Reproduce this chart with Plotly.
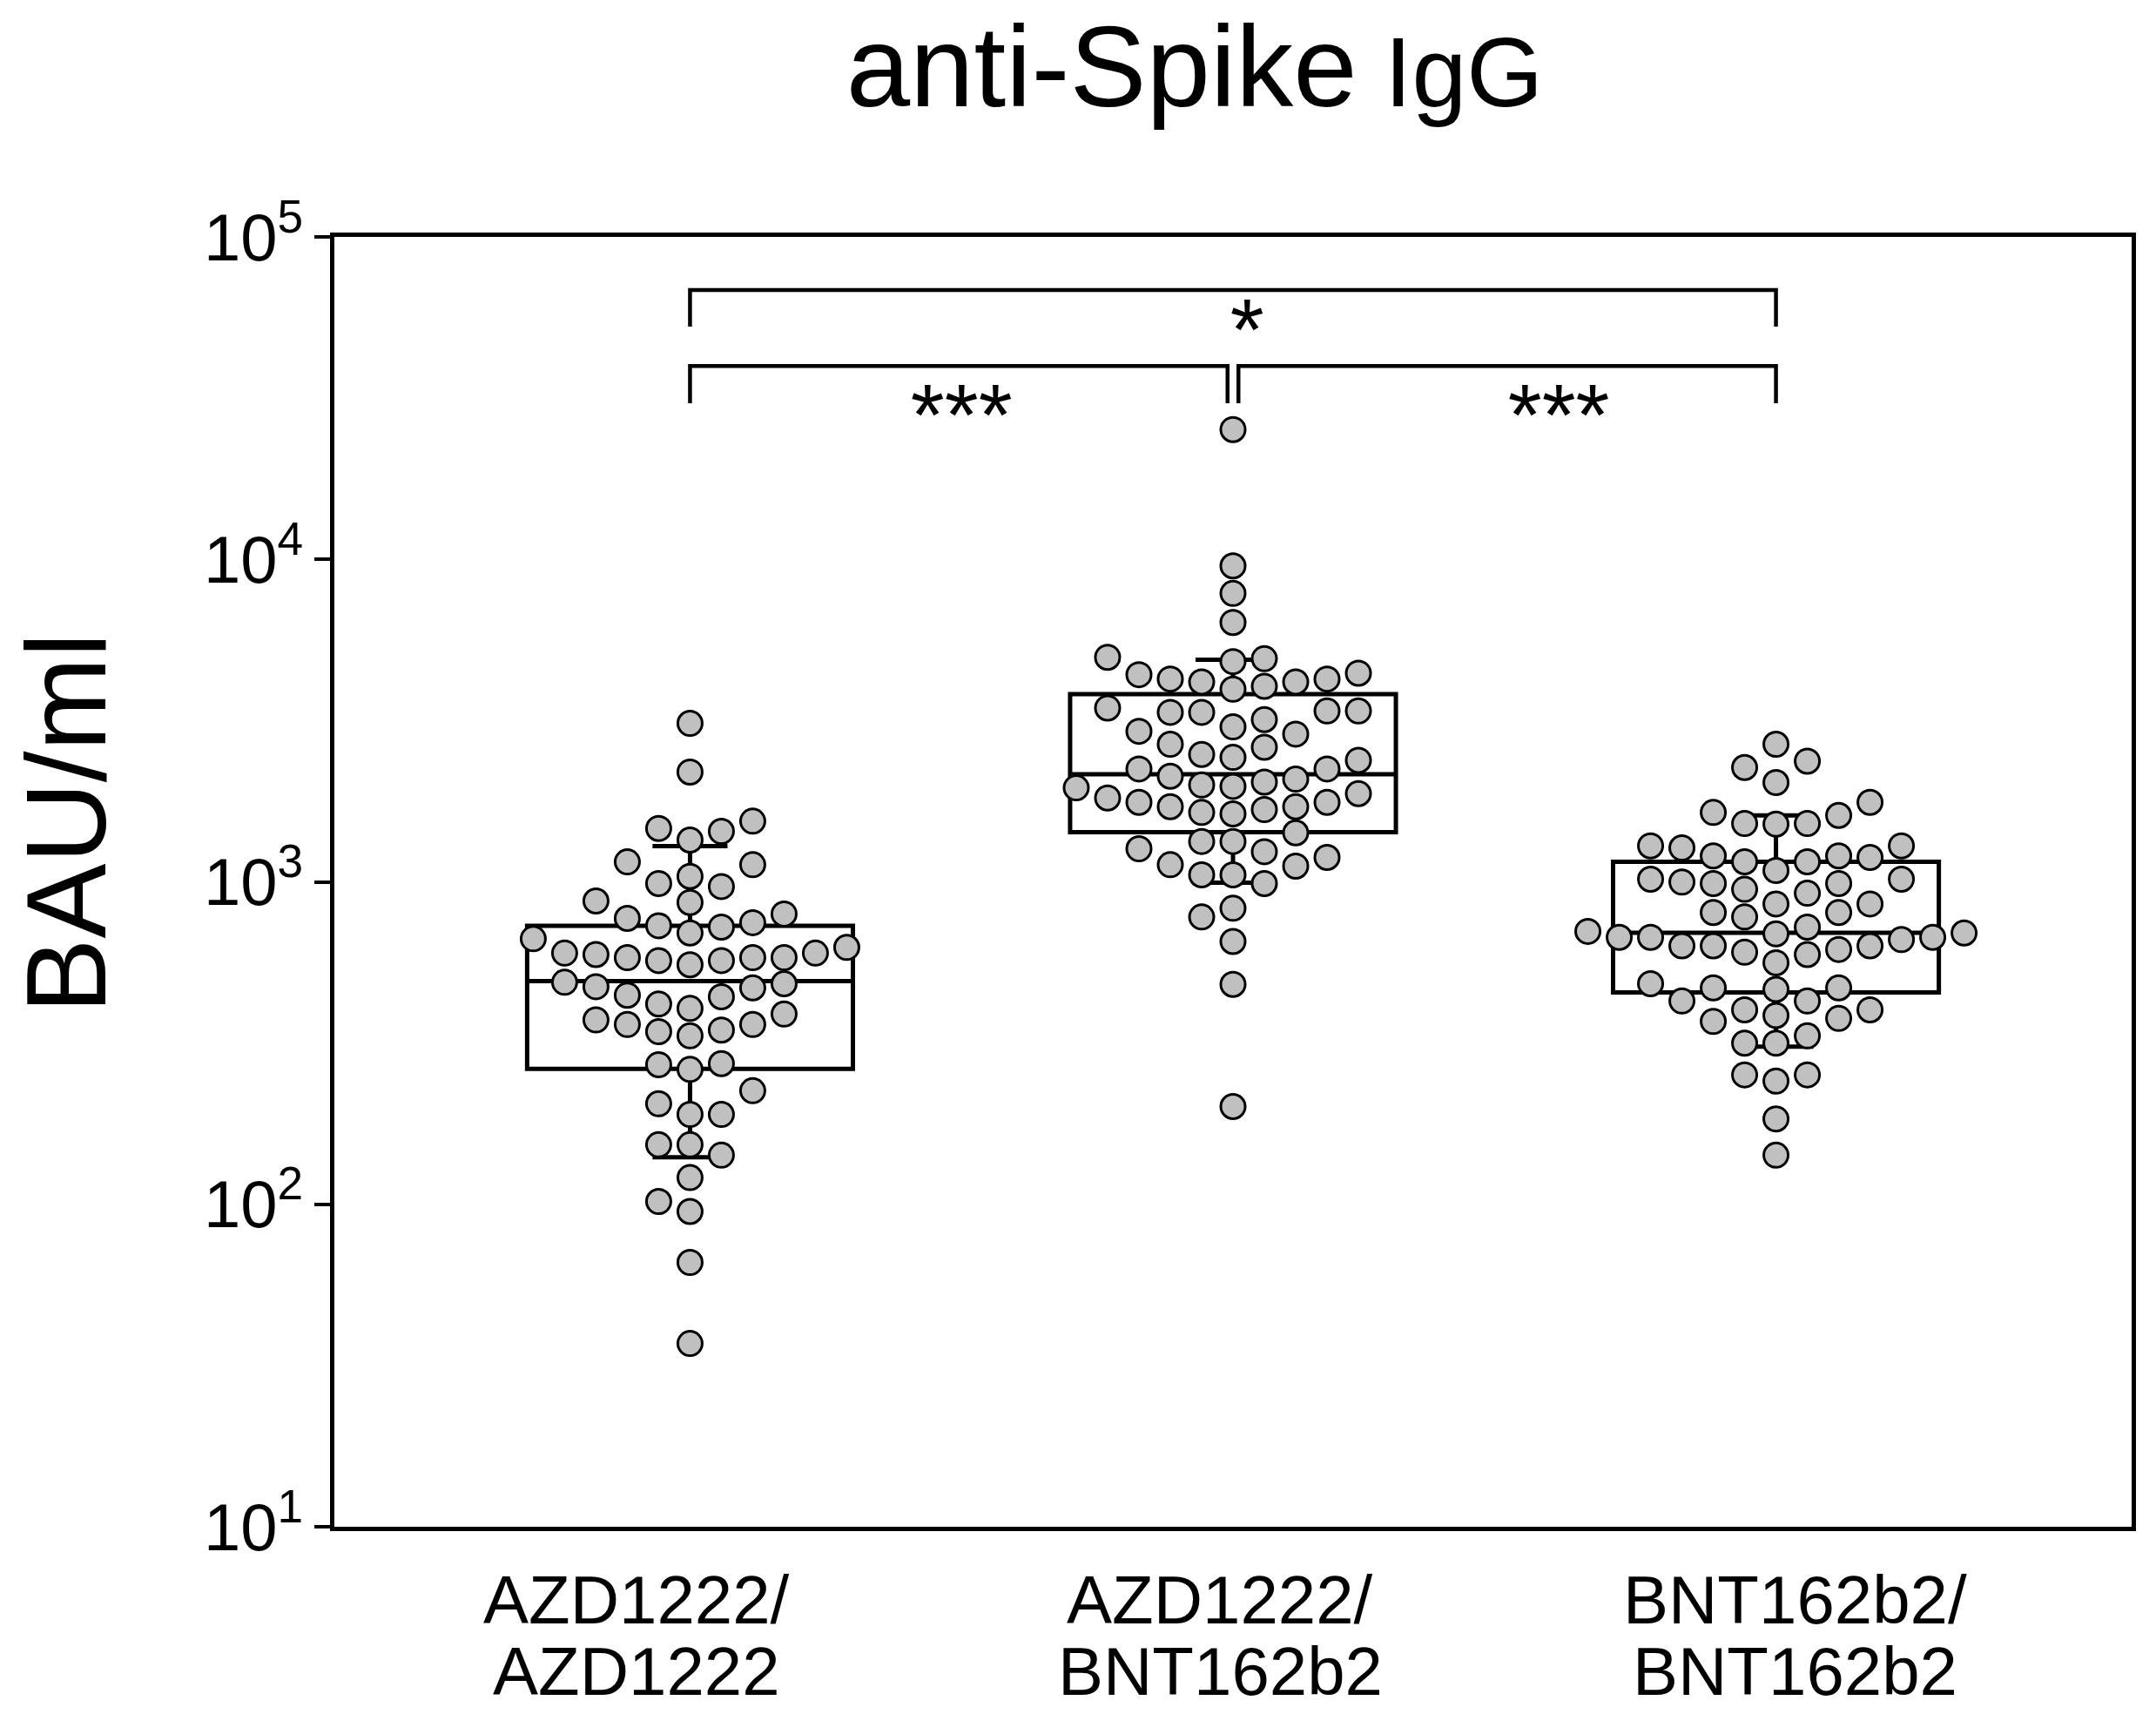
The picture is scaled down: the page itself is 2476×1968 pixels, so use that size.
import numpy as np
import plotly.graph_objects as go

# group labels (two lines under each group)
label_top = ["AZD1222/", "AZD1222/", "BNT162b2/"]
label_bottom = ["AZD1222", "BNT162b2", "BNT162b2"]

# anti-Spike IgG, BAU/ml, one value per participant
azd_azd = [3100, 2190, 1434, 1348, 1464, 1542, 1130, 1153, 1040, 988, 967,
           863, 872, 795, 770, 747, 724, 694, 731, 666, 601, 582, 582, 601,
           595, 570, 553, 570, 626, 582, 488, 440, 418, 445, 469, 473, 483,
           389, 405, 361, 347, 343, 333, 361, 373, 262, 273, 271, 225, 205,
           190, 190, 153, 153, 142, 121, 102, 95, 66, 37]
azd_bnt = [25270, 9546, 7842, 6374, 4819, 3459, 2871, 2239, 1710, 1240, 988,
           653, 481, 201, 4918, 4041, 3184, 2670, 2239, 1764, 1419, 1130,
           4168, 3354, 2382, 1764, 1266, 4436, 3388, 2615, 1820, 1334, 1051,
           778, 4970, 3957, 3023, 2432, 1997, 1641, 1334, 1051, 828, 4390,
           3388, 2483, 1977, 1624, 1119, 4168, 2930, 2039, 1675, 1190, 4255,
           3354, 2126, 1710, 4255, 1877, 1956, 2082]
bnt_bnt = [2670, 2262, 2367, 2032, 1510, 1641, 1516, 1516, 1607, 1764, 1293,
           1190, 1274, 1293, 1203, 1203, 1154, 1084, 1154, 1019, 988, 998, 988,
           1019, 948, 922, 854, 854, 778, 803, 803, 690, 673, 673, 633, 633,
           633, 724, 702, 617, 605, 662, 673, 694, 595, 561, 469, 464, 469,
           483, 427, 427, 369, 377, 385, 401, 401, 316, 316, 333, 252, 241,
           252, 184, 142]

# box statistics as drawn in the figure
q1 = [263, 1425, 454]
median = [492, 2157, 695]
q3 = [730, 3818, 1153]
whisker_low = [140, 994, 308]
whisker_high = [1291, 4887, 1607]

# pairwise comparisons: (group a, group b, label)
comparisons = [(0, 2, "*"), (0, 1, "***"), (1, 2, "***")]

FONT = "Liberation Sans, Arial, sans-serif"

# swarm layout in pixel space, then back to category units
PX_PER_CAT = 623.5
PX_PER_DECADE = 370.5
DOT = 30.0
STEP = 36.0


def swarm(values):
    ypx = np.log10(values) * PX_PER_DECADE
    cols = {}
    offs = np.zeros(len(values))
    side = {-1: 0, 1: 0}
    for i in np.argsort(values):
        k = 0
        done = False
        while not done:
            if k == 0:
                cands = [0]
            elif side[-1] <= side[1]:
                cands = [-k, k]
            else:
                cands = [k, -k]
            for c in cands:
                if all(abs(ypx[i] - yy) >= DOT for yy in cols.get(c, [])):
                    cols.setdefault(c, []).append(ypx[i])
                    offs[i] = c
                    if c:
                        side[int(np.sign(c))] += 1
                    done = True
                    break
            k += 1
    return offs * STEP / PX_PER_CAT


fig = go.Figure()

fig.add_trace(go.Box(
    x=[0, 1, 2], q1=q1, median=median, q3=q3,
    lowerfence=whisker_low, upperfence=whisker_high,
    width=0.6, whiskerwidth=0.23, boxpoints=False,
    fillcolor="rgba(0,0,0,0)", line=dict(color="black", width=5),
    hoverinfo="skip"
))

for gi, vals in enumerate([azd_azd, azd_bnt, bnt_bnt]):
    fig.add_trace(go.Scatter(
        x=gi + swarm(vals), y=vals, mode="markers",
        marker=dict(size=28, color="#c0c0c0",
                    line=dict(color="black", width=3)),
        hoverinfo="y"
    ))

# significance brackets
levels = {2: (68400, 52700), 1: (39800, 30500)}
star_pos = {(0, 2): (1.026, 48500), (0, 1): (0.50, 26500), (1, 2): (1.60, 26500)}
for a, b, lab in comparisons:
    top, leg = levels[b - a]
    if b - a == 2:
        x0, x1 = a, b
    elif a == 0:
        x0, x1 = a, b - 0.01
    else:
        x0, x1 = a + 0.01, b
    fig.add_trace(go.Scatter(
        x=[x0, x0, x1, x1], y=[leg, top, top, leg], mode="lines",
        line=dict(color="black", width=4.5), hoverinfo="skip"
    ))
    sx, sy = star_pos[(a, b)]
    fig.add_trace(go.Scatter(
        x=[sx], y=[sy], mode="text", text=[lab], textposition="middle center",
        textfont=dict(family=FONT, size=100, color="black"), hoverinfo="skip"
    ))

# two-line group labels
label_x = [-0.098, 0.976, 2.035]
annotations = []
for x, t1, t2 in zip(label_x, label_top, label_bottom):
    annotations.append(dict(x=x, y=-0.0567, xref="x", yref="paper", text=t1,
                            showarrow=False, xanchor="center", yanchor="middle",
                            font=dict(family=FONT, size=78, color="black")))
    annotations.append(dict(x=x, y=-0.1121, xref="x", yref="paper", text=t2,
                            showarrow=False, xanchor="center", yanchor="middle",
                            font=dict(family=FONT, size=78, color="black")))
annotations.append(dict(x=-0.149, y=0.5456, xref="paper", yref="paper",
                        text="BAU/ml", textangle=-90, showarrow=False,
                        xanchor="center", yanchor="middle",
                        font=dict(family=FONT, size=129, color="black")))

fig.update_layout(
    width=2476, height=1968,
    template="none",
    showlegend=False,
    paper_bgcolor="white", plot_bgcolor="white",
    margin=dict(l=384, r=28, t=272, b=215),
    font=dict(family=FONT, color="black"),
    title=dict(
        text="anti-Spike<span style='font-size:113px'> IgG</span>",
        x=0.5541, xref="container", xanchor="center",
        y=0.9615, yref="container", yanchor="middle",
        font=dict(family=FONT, size=132, color="black")
    ),
    annotations=annotations,
    xaxis=dict(
        range=[-0.655, 2.655], showticklabels=False, ticks="",
        showgrid=False, zeroline=False,
        showline=True, linecolor="black", linewidth=4.5, mirror=True
    ),
    yaxis=dict(
        type="log", range=[1, 5],
        tickvals=[10, 100, 1000, 10000, 100000],
        ticktext=["10<sup>1</sup>", "10<sup>2</sup>", "10<sup>3</sup>",
                  "10<sup>4</sup>", "10<sup>5</sup>"],
        ticks="outside", ticklen=18, tickwidth=3.5, tickcolor="black",
        ticklabelstandoff=-2,
        tickfont=dict(family=FONT, size=76, color="black"),
        showgrid=False, zeroline=False,
        showline=True, linecolor="black", linewidth=4.5, mirror=True
    ),
)

# the page is photographed at exactly the figure size: drop the body margin
fig.write_html("out.html", config={"displayModeBar": False},
               post_script="document.body.style.margin='0';")
